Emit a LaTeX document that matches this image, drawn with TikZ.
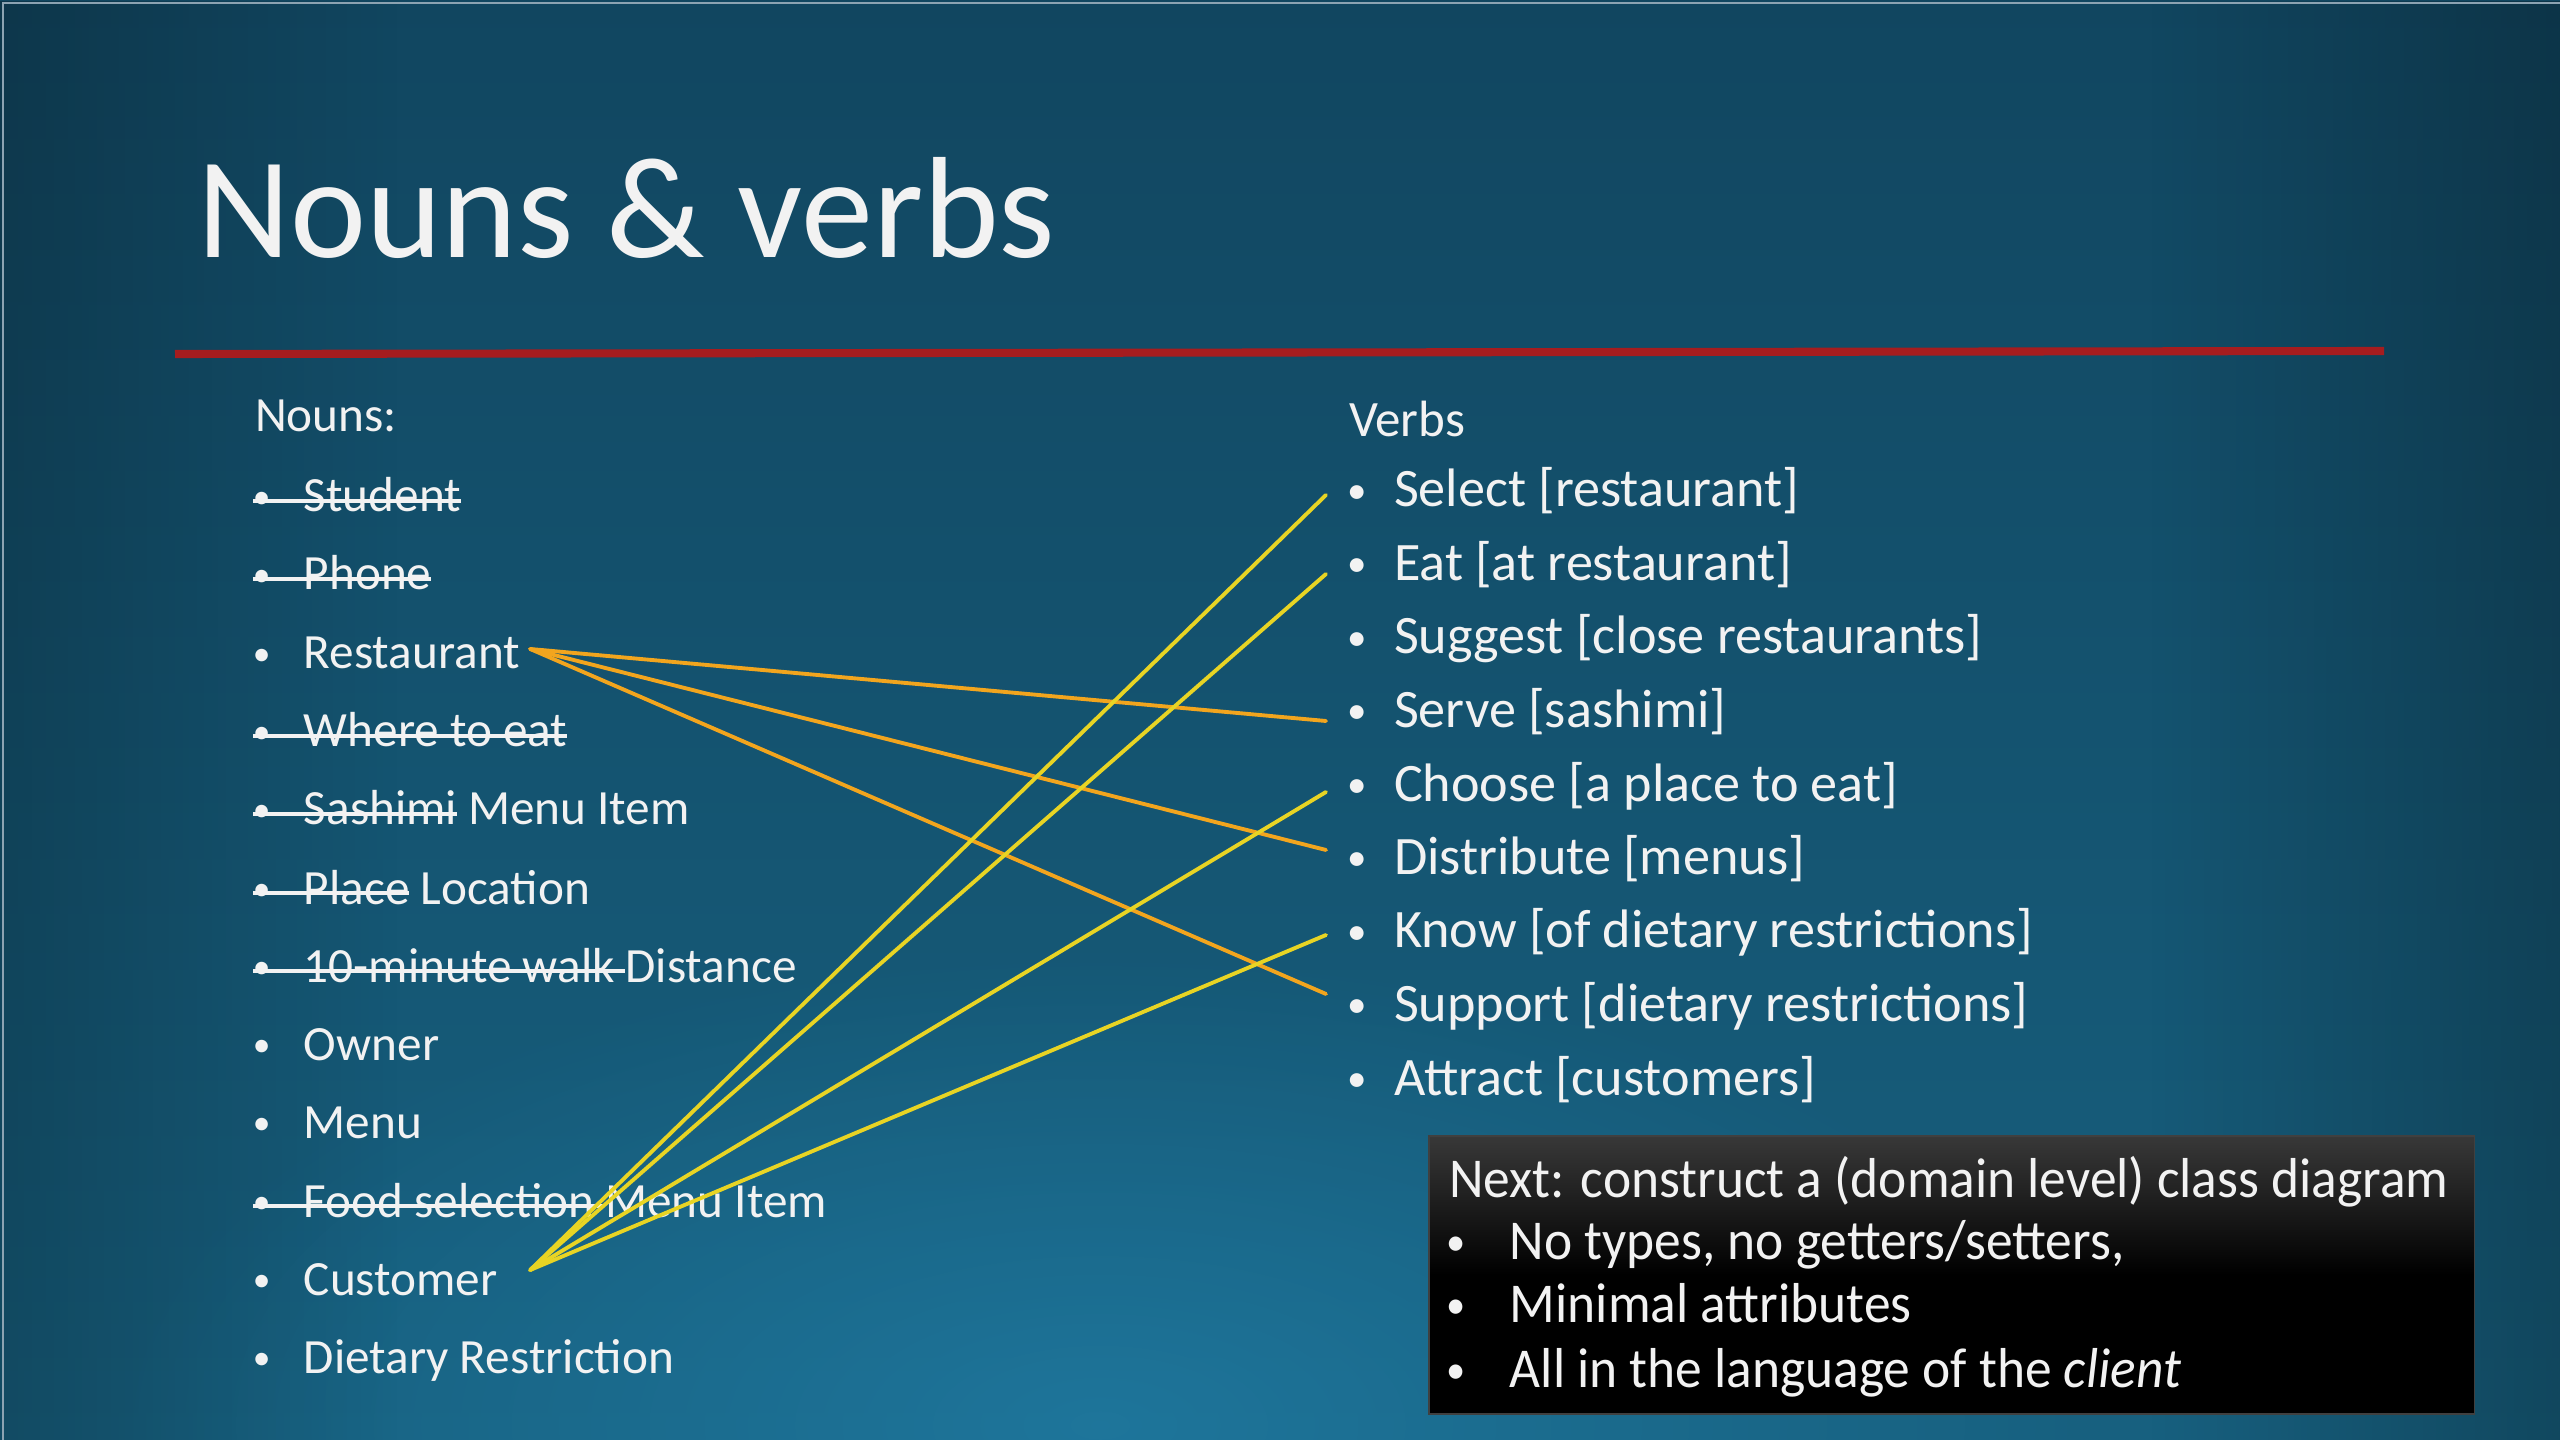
\documentclass[tikz,border=0pt]{standalone}
\usepackage{fontspec}
\setmainfont{Carlito}
\newfontfamily\boxfont[FakeStretch=0.95]{Carlito}
\usetikzlibrary{positioning,fadings}

\definecolor{bgtop}{HTML}{114660}
\definecolor{bgbot}{HTML}{17607F}
\definecolor{bgglow}{HTML}{2384AE}
\definecolor{edgecol}{HTML}{8CA3B2}
\definecolor{rulered}{HTML}{A51C1F}
\definecolor{txt}{HTML}{F2F2F2}
\definecolor{restline}{HTML}{F2A51E}
\definecolor{custline}{HTML}{E8D424}

\tikzfading[name=glowfade, inner color=transparent!0, outer color=transparent!100]

% small round bullet, as on the slide
\newcommand{\dotb}{\hspace{0.08em}\raisebox{0.07em}{\scalebox{0.72}{\textbullet}}}
\newcommand{\nbul}{\makebox[15.6pt][l]{\dotb}}
\newcommand{\vbul}{\makebox[14.5pt][l]{\dotb}}
\newcommand{\xbul}{\makebox[19.3pt][l]{\dotb}}

\begin{document}
\begin{tikzpicture}[
    x=0.01cm, y=-0.01cm,
    every node/.style={text=txt,inner sep=0pt,outer sep=0pt},
    title/.style={anchor=base west,font=\fontsize{41}{48}\selectfont},
    head/.style={anchor=base west,font=\fontsize{14}{17}\selectfont},
    noun/.style={anchor=base west,font=\fontsize{14}{17}\selectfont},
    verb/.style={anchor=base west,font=\fontsize{15.4}{18}\selectfont},
    note/.style={anchor=base west,font=\boxfont\fontsize{16}{19}\selectfont},
    nextbox/.style={draw=black!75,line width=0.4pt,top color=black!78,bottom color=black,
                    middle color=black,minimum width=10.45cm,minimum height=2.78cm,
                    anchor=north west},
    strike/.style={txt,line width=0.9pt},
    rline/.style={restline,line width=1.1pt,line cap=round},
    cline/.style={custline,line width=1.1pt,line cap=round}
]

% Slide background
\useasboundingbox (0,0) rectangle (2560,1440);
\shade[top color=bgtop,bottom color=bgbot] (0,0) rectangle (2560,1440);
\fill[bgglow,path fading=glowfade,fill opacity=0.6] (100,950) rectangle (2100,1900);
\fill[black,path fading=east,fill opacity=0.22] (0,0) rectangle (400,1440);
\fill[black,path fading=west,fill opacity=0.25] (2150,0) rectangle (2560,1440);
\draw[edgecol,line width=0.6pt] (3,1440) -- (3,3) -- (2560,3);

% Title and rule
\node[title] (ttl) at (197,258) {Nouns \& verbs};
\draw[rulered,line width=2.3pt] (175,354) -- (2384,351);

% Nouns
\node[head] (nhead) at (255,432) {Nouns:};
\node[noun] (nStudent) at (249,512) {\nbul Student};
\node[noun] (nPhone) at (249,590) {\nbul Phone};
\node[noun] (nRest) at (249,669) {\nbul Restaurant};
\node[noun] (nWhere) at (249,747) {\nbul Where to eat};
\node[noun] (nSashimi) at (249,825) {\nbul Sashimi};
\node[noun,base right=0.11cm of nSashimi] (nSashimiB) {Menu Item};
\node[noun] (nPlace) at (249,904) {\nbul Place};
\node[noun,base right=0.11cm of nPlace] (nPlaceB) {Location};
\node[noun] (nWalk) at (249,982) {\nbul 10-minute walk};
\node[noun,base right=0.11cm of nWalk] (nWalkB) {Distance};
\node[noun] (nOwner) at (249,1060) {\nbul Owner};
\node[noun] (nMenu) at (249,1138) {\nbul Menu};
\node[noun] (nFood) at (249,1217) {\nbul Food selection};
\node[noun,base right=0.11cm of nFood] (nFoodB) {Menu Item};
\node[noun] (nCust) at (249,1295) {\nbul Customer};
\node[noun] (nDiet) at (249,1373) {\nbul Dietary Restriction};

% crossed-out nouns
\foreach \n in {nStudent,nPhone,nWhere,nSashimi,nPlace}
  \draw[strike] ([xshift=0.04cm,yshift=0.11cm]\n.base west) -- ([yshift=0.11cm]\n.base east);
\draw[strike] ([xshift=0.04cm,yshift=0.11cm]nWalk.base west) -- ([xshift=-0.01cm,yshift=0.11cm]nWalkB.base west);
\draw[strike] ([xshift=0.04cm,yshift=0.11cm]nFood.base west) -- ([xshift=-0.01cm,yshift=0.11cm]nFoodB.base west);

% Verbs
\node[head,font=\fontsize{14.5}{17}\selectfont] (vhead) at (1349,437) {Verbs};
\node[verb] (vSelect) at (1343,507) {\vbul Select [restaurant]};
\node[verb] (vEat) at (1343,580.5) {\vbul Eat [at restaurant]};
\node[verb] (vSuggest) at (1343,654) {\vbul Suggest [close restaurants]};
\node[verb] (vServe) at (1343,727.5) {\vbul Serve [sashimi]};
\node[verb] (vChoose) at (1343,801) {\vbul Choose [a place to eat]};
\node[verb] (vDistrib) at (1343,874.5) {\vbul Distribute [menus]};
\node[verb] (vKnow) at (1343,948) {\vbul Know [of dietary restrictions]};
\node[verb] (vSupport) at (1343,1021.5) {\vbul Support [dietary restrictions]};
\node[verb] (vAttract) at (1343,1095) {\vbul Attract [customers]};

% Restaurant links
\draw[rline] ([xshift=2.81cm,yshift=0.2cm]nRest.base west) -- ([xshift=-0.17cm,yshift=0.065cm]vServe.base west);
\draw[rline] ([xshift=2.81cm,yshift=0.2cm]nRest.base west) -- ([xshift=-0.17cm,yshift=0.245cm]vDistrib.base west);
\draw[rline] ([xshift=2.81cm,yshift=0.2cm]nRest.base west) -- ([xshift=-0.17cm,yshift=0.275cm]vSupport.base west);

% Customer links
\draw[cline] ([xshift=2.81cm,yshift=0.25cm]nCust.base west) -- ([xshift=-0.17cm,yshift=0.12cm]vSelect.base west);
\draw[cline] ([xshift=2.81cm,yshift=0.25cm]nCust.base west) -- ([xshift=-0.17cm,yshift=0.065cm]vEat.base west);
\draw[cline] ([xshift=2.81cm,yshift=0.25cm]nCust.base west) -- ([xshift=-0.17cm,yshift=0.09cm]vChoose.base west);
\draw[cline] ([xshift=2.81cm,yshift=0.25cm]nCust.base west) -- ([xshift=-0.17cm,yshift=0.13cm]vKnow.base west);

% Next step box
\node[nextbox] (nextbg) at (1429,1136) {};
\node[note] (nx0) at (1449,1197) {Next: construct a (domain level) class diagram};
\node[note] (nx1) at (1442,1259) {\xbul No types, no getters/setters,};
\node[note] (nx2) at (1442,1322) {\xbul Minimal attributes};
\node[note] (nx3) at (1442,1387) {\xbul All in the language of the \emph{client}};

\end{tikzpicture}
\end{document}
